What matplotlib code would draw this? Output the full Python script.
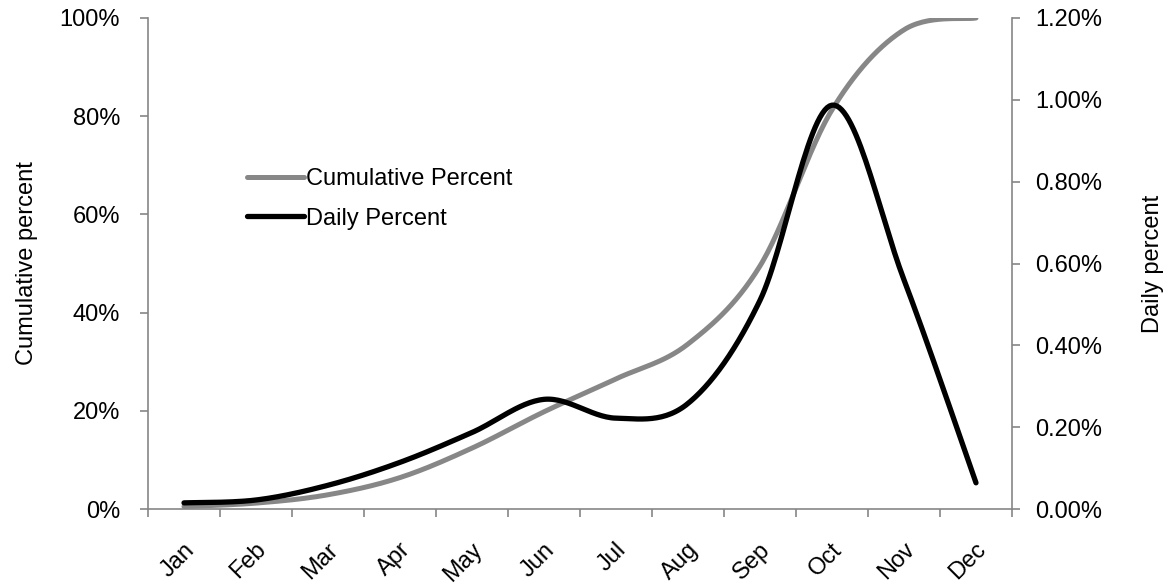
import numpy as np
import matplotlib
matplotlib.use("Agg")
import matplotlib.pyplot as plt
import matplotlib.transforms as mtransforms
from matplotlib.ticker import FuncFormatter, FixedLocator

plt.rcParams['font.family'] = ['Liberation Sans', 'DejaVu Sans']

months = ["Jan", "Feb", "Mar", "Apr", "May", "Jun",
          "Jul", "Aug", "Sep", "Oct", "Nov", "Dec"]
# cumulative share, percent
cumulative = [0.5, 1.2, 2.9, 6.4, 12.4, 19.8, 26.5, 33.6, 49.5, 81.3, 97.6, 100.0]
# daily share, percent
daily = [0.015, 0.022, 0.058, 0.114, 0.187, 0.268, 0.222, 0.258, 0.51, 0.987, 0.56, 0.064]


def smooth(y, n=30):
    # Excel style smoothed line (Catmull-Rom through the points)
    y = np.asarray(y, dtype=float)
    x = np.arange(len(y), dtype=float)
    px = np.concatenate([[x[0]], x, [x[-1]]])
    py = np.concatenate([[y[0]], y, [y[-1]]])
    xs, ys = [], []
    t = np.linspace(0, 1, n, endpoint=False)
    for i in range(1, len(px) - 2):
        p0, p1, p2, p3 = py[i - 1], py[i], py[i + 1], py[i + 2]
        q0, q1, q2, q3 = px[i - 1], px[i], px[i + 1], px[i + 2]
        c1y, c2y = p1 + (p2 - p0) / 6, p2 - (p3 - p1) / 6
        c1x, c2x = q1 + (q2 - q0) / 6, q2 - (q3 - q1) / 6
        b0, b1, b2, b3 = (1 - t) ** 3, 3 * t * (1 - t) ** 2, 3 * t ** 2 * (1 - t), t ** 3
        xs.append(b0 * q1 + b1 * c1x + b2 * c2x + b3 * q2)
        ys.append(b0 * p1 + b1 * c1y + b2 * c2y + b3 * p2)
    xs.append([x[-1]])
    ys.append([y[-1]])
    return np.concatenate(xs), np.concatenate(ys)


spine_col = "#868686"
fs = 17
fig = plt.figure(figsize=(11.69, 5.86), dpi=100)
ax = fig.add_axes([148 / 1169, 77 / 586, 864 / 1169, 491 / 586])
ax2 = ax.twinx()

cx, cy = smooth(cumulative)
dx, dy = smooth(daily)
l1, = ax.plot(cx, cy, color="#878787", lw=3.6, solid_capstyle="round",
              label="Cumulative Percent")
l2, = ax2.plot(dx, dy, color="black", lw=3.8, solid_capstyle="round",
               label="Daily Percent")

ax.set_xlim(-0.5, 11.5)
ax.set_ylim(0, 100)
ax2.set_ylim(0, 1.2)

for a in (ax, ax2):
    a.spines["top"].set_visible(False)
    for s in a.spines.values():
        s.set_color(spine_col)
        s.set_linewidth(1.2)
ax.spines["right"].set_visible(False)
ax2.spines["left"].set_visible(False)
ax2.spines["bottom"].set_visible(False)

ax.set_yticks(np.arange(0, 101, 20))
ax.yaxis.set_major_formatter(FuncFormatter(lambda v, p: f"{v:.0f}%"))
ax2.set_yticks(np.arange(0, 1.21, 0.2))
ax2.yaxis.set_major_formatter(FuncFormatter(lambda v, p: f"{v:.2f}%"))

ax.xaxis.set_major_locator(FixedLocator(np.arange(-0.5, 12, 1)))
ax.xaxis.set_major_formatter(FuncFormatter(lambda v, p: ""))
ax.xaxis.set_minor_locator(FixedLocator(np.arange(12)))
ax.set_xticklabels(months, minor=True)

ax.tick_params(axis="x", which="major", direction="out", length=6,
               color=spine_col, width=1.2)
ax.tick_params(axis="x", which="minor", length=0, pad=27, labelsize=fs)
ax.tick_params(axis="y", direction="out", length=6, color=spine_col,
               width=1.2, labelsize=fs, pad=14)
ax2.tick_params(axis="y", direction="out", length=6, color=spine_col,
                width=1.2, labelsize=fs, pad=11)

offset = mtransforms.ScaledTranslation(7 / 100, 0, fig.dpi_scale_trans)
for lab in ax.get_xticklabels(minor=True):
    lab.set_rotation(45)
    lab.set_ha("right")
    lab.set_va("center")
    lab.set_rotation_mode("anchor")
    lab.set_transform(lab.get_transform() + offset)

ax.set_ylabel("Cumulative percent", fontsize=fs, labelpad=16)
ax2.set_ylabel("Daily percent", fontsize=fs, labelpad=28)

ax.legend([l1, l2], ["Cumulative Percent", "Daily Percent"],
          loc="upper left", bbox_to_anchor=(0.09, 0.738), frameon=False,
          fontsize=fs, handlelength=2.4, handletextpad=0.1,
          labelspacing=0.75)

fig.savefig("out.png", dpi=100)
